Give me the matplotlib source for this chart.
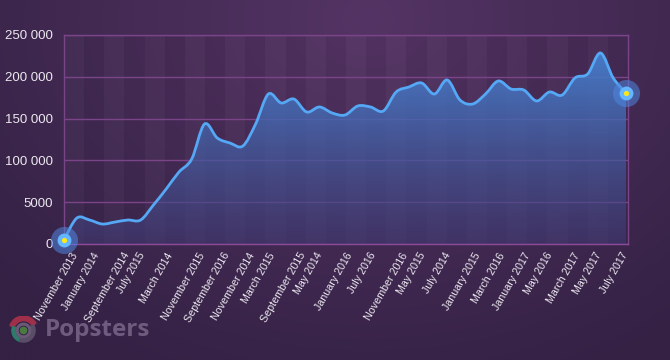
import numpy as np
import matplotlib.pyplot as plt
from matplotlib.path import Path
from matplotlib.patches import PathPatch, Wedge, Circle

##### data #####
# one value per month, Nov 2013 .. Jul 2017
values = [4800, 31000, 28700, 23900, 26300, 28700, 28700, 46600, 65800, 86100,
          101700, 143500, 126800, 120800, 117200, 143500, 179400, 168700, 173400, 157900,
          163900, 156700, 154300, 165100, 163900, 159100, 181800, 187800, 192600, 179400,
          196200, 172300, 167500, 179400, 195000, 185400, 184200, 171100, 181800, 178200,
          198600, 203400, 228500, 198600, 180600]

tick_pos = [0.55, 2.27, 4.62, 5.79, 7.99, 10.49, 12.45, 14.41, 15.97, 18.40, 19.73, 22.08,
            23.88, 26.38, 27.79, 29.75, 32.10, 33.98, 36.01, 37.73, 39.85, 41.57, 43.61]
tick_labels = ['November 2013', 'January 2014', 'September 2014', 'July 2015', 'March 2014',
               'November 2015', 'September 2016', 'November 2014', 'March 2015',
               'September 2015', 'May 2014', 'January 2016', 'July 2016', 'November 2016',
               'May 2015', 'July 2014', 'January 2015', 'March 2016', 'January 2017',
               'May 2016', 'March 2017', 'May 2017', 'July 2017']

y_ticks = [0, 50000, 100000, 150000, 200000, 250000]
y_labels = ['0', '5000', '100 000', '150 000', '200 000', '250 000']

plt.rcParams['font.family'] = ['Liberation Sans', 'DejaVu Sans']

fig = plt.figure(figsize=(6.7, 3.6), dpi=100)

##### background #####
bg = fig.add_axes([0, 0, 1, 1], zorder=-10)
gx, gy = np.meshgrid(np.linspace(0, 1, 200), np.linspace(0, 1, 120))
d = np.sqrt(((gx - 0.55) / 0.75) ** 2 + ((gy - 0.05) / 1.1) ** 2)
d = np.clip(d, 0, 1)
c_in = np.array([84, 52, 100]) / 255
c_out = np.array([52, 33, 68]) / 255
img = c_in[None, None, :] * (1 - d[..., None]) + c_out[None, None, :] * d[..., None]
bg.imshow(img, aspect='auto', extent=[0, 1, 0, 1])
bg.axis('off')

##### main axes #####
ax = fig.add_axes([64 / 670, 116 / 360, 564 / 670, 209 / 360])
ax.set_facecolor('none')
xmax = (len(values) - 1) * 564 / 562
ax.set_xlim(0, xmax)
ax.set_ylim(0, 250000)

# faint vertical bands
nb = 28
bw = xmax / nb
for k in range(nb):
    col = 'white' if k % 2 == 0 else 'black'
    ax.axvspan(k * bw, (k + 1) * bw, color=col, alpha=0.025, lw=0, zorder=0)

for yt in y_ticks:
    ax.axhline(yt, color='#7a4488', lw=1, zorder=1)
for s in ax.spines.values():
    s.set_color('#7a4488')
    s.set_linewidth(1)
ax.spines['bottom'].set_color('#8c4a98')

# smooth curve (Catmull-Rom as cubic bezier)
x = np.arange(len(values), dtype=float)
y = np.array(values, dtype=float)
P = np.column_stack([x, y])
Pp = np.vstack([P[0], P, P[-1]])
verts = [P[0]]
codes = [Path.MOVETO]
for i in range(len(P) - 1):
    p0, p1, p2, p3 = Pp[i], Pp[i + 1], Pp[i + 2], Pp[i + 3]
    verts += [p1 + (p2 - p0) / 6, p2 - (p3 - p1) / 6, p2]
    codes += [Path.CURVE4] * 3

line_path = Path(verts, codes)
fill_path = Path(verts + [(x[-1], 0), (x[0], 0), (x[0], y[0])],
                 codes + [Path.LINETO, Path.LINETO, Path.CLOSEPOLY])

clip = PathPatch(fill_path, transform=ax.transData, fc='none', ec='none')
ax.add_patch(clip)
grad = np.zeros((256, 1, 4))
t = np.linspace(0, 1, 256)
top = np.array([70, 130, 210]) / 255
bot = np.array([66, 60, 118]) / 255
grad[:, 0, :3] = bot[None, :] * (1 - t[:, None]) + top[None, :] * t[:, None]
grad[:, 0, 3] = 0.55 + 0.4 * t
im = ax.imshow(grad, aspect='auto', origin='lower', extent=[0, xmax, 0, 235000], zorder=2)
im.set_clip_path(clip)

ax.add_patch(PathPatch(line_path, transform=ax.transData, fill=False,
                       ec='#55a8f5', lw=2, zorder=3, capstyle='round'))

# end markers
ends_x = [x[0], x[-1]]
ends_y = [y[0], y[-1]]
ax.scatter(ends_x, ends_y, s=380, color='#4f86e0', alpha=0.55, lw=0, zorder=4, clip_on=False)
ax.scatter(ends_x, ends_y, s=100, color='#63b6ff', lw=0, zorder=5, clip_on=False)
ax.scatter(ends_x, ends_y, s=14, color='#ffe81a', lw=0, zorder=6, clip_on=False)

##### ticks #####
ax.set_yticks(y_ticks)
ax.set_yticklabels(y_labels, fontsize=9.5, color='#ece8f0')
ax.set_xticks(tick_pos)
ax.set_xticklabels(tick_labels, fontsize=7.7, color='#ece8f0', rotation=60,
                   ha='right', va='top', rotation_mode='anchor')
ax.tick_params(axis='both', length=0)
ax.tick_params(axis='y', pad=8)
ax.tick_params(axis='x', pad=5)

##### watermark #####
fig.text(45 / 670, 1 - 330 / 360, 'Popsters', fontsize=17.5, fontweight='bold',
         family=['Open Sans', 'DejaVu Sans'], color='#6e5c7e', va='center', ha='left')
lg = fig.add_axes([9 / 670, 1 - 345 / 360, 29 / 670, 29 / 360])
lg.set_xlim(-1, 1)
lg.set_ylim(-1, 1)
lg.set_aspect('equal')
lg.axis('off')
lg.add_patch(Wedge((0, 0), 1, 30, 160, width=0.32, color='#a0304a'))
lg.add_patch(Wedge((0, 0), 0.8, 160, 250, width=0.22, color='#2f7a6a'))
lg.add_patch(Wedge((0, 0), 0.8, 250, 30, width=0.22, color='#5a4d68'))
lg.add_patch(Wedge((0, 0), 0.5, 0, 360, width=0.12, color='#6a5a78'))
lg.add_patch(Circle((0, 0), 0.22, color='#4a7a40'))

plt.savefig('out.png', dpi=100)
